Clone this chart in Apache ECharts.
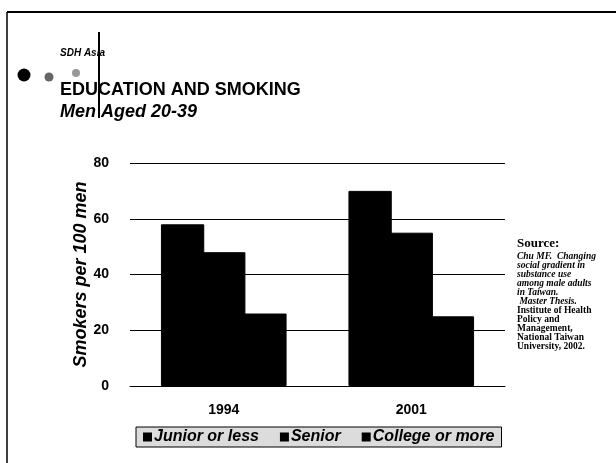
<!DOCTYPE html>
<html>
<head>
<meta charset="utf-8">
<script src="https://cdn.jsdelivr.net/npm/echarts@6/dist/echarts.min.js"></script>
<style>
  html, body { margin: 0; padding: 0; background: #fff; }
  #chart { width: 616px; height: 463px; }
</style>
</head>
<body>
<div id="chart"></div>
<script>
// data
var years = ['1994', '2001']
var juniorOrLess = [58, 70]
var senior = [48, 55]
var collegeOrMore = [26, 25]
var yTicks = [0, 20, 40, 60, 80]

var sourceLines = [
  { text: 'Chu MF.  Changing', style: 'italic' },
  { text: 'social gradient in', style: 'italic' },
  { text: 'substance use', style: 'italic' },
  { text: 'among male adults', style: 'italic' },
  { text: 'in Taiwan.', style: 'italic' },
  { text: ' Master Thesis.', style: 'italic' },
  { text: 'Institute of Health', style: 'normal' },
  { text: 'Policy and', style: 'normal' },
  { text: 'Management,', style: 'normal' },
  { text: 'National Taiwan', style: 'normal' },
  { text: 'University, 2002.', style: 'normal' }
]

var chart = echarts.init(document.getElementById('chart'))

var sansBold = { fontFamily: 'Liberation Sans, Arial', fontWeight: 'bold', fill: '#000' }

var graphics = [
  // slide frame
  { type: 'line', shape: { x1: 7, y1: 12, x2: 616, y2: 12 }, style: { stroke: '#000', lineWidth: 2 } },
  { type: 'line', shape: { x1: 7, y1: 12, x2: 7, y2: 463 }, style: { stroke: '#000', lineWidth: 1.5 } },
  { type: 'line', shape: { x1: 99, y1: 32, x2: 99, y2: 118 }, style: { stroke: '#000', lineWidth: 2 }, z: 10 },
  // bullets
  { type: 'circle', shape: { cx: 24, cy: 75, r: 6.5 }, style: { fill: '#000' } },
  { type: 'circle', shape: { cx: 49, cy: 77, r: 4.5 }, style: { fill: '#666' } },
  { type: 'circle', shape: { cx: 76, cy: 73, r: 4 }, style: { fill: '#999' } },
  // texts
  { type: 'text', left: 60, top: 48, style: Object.assign({ text: 'SDH Asia', fontSize: 10, fontStyle: 'italic' }, sansBold) },
  { type: 'text', left: 60, top: 81, style: Object.assign({ text: 'EDUCATION AND SMOKING', fontSize: 18 }, sansBold) },
  { type: 'text', left: 60, top: 103, style: Object.assign({ text: 'Men Aged 20-39', fontSize: 18, fontStyle: 'italic' }, sansBold) },
  { type: 'text', left: 517, top: 237, style: { text: 'Source:', fontFamily: 'Liberation Serif', fontWeight: 'bold', fontSize: 13, fill: '#000' } }
]

sourceLines.forEach(function (line, i) {
  graphics.push({
    type: 'text',
    left: 517,
    top: 252 + i * 9,
    style: {
      text: line.text,
      fontFamily: 'Liberation Serif',
      fontWeight: 'bold',
      fontStyle: line.style,
      fontSize: 9.5,
      fill: '#000'
    }
  })
})

function barSeries(name, data) {
  return {
    name: name,
    type: 'bar',
    data: data,
    barGap: '-5%',
    barCategoryGap: '33%',
    itemStyle: { color: '#000', borderColor: '#000', borderWidth: 1 },
    animation: false
  }
}

chart.setOption({
  backgroundColor: '#fff',
  animation: false,
  grid: { left: 130, right: 111, top: 163, bottom: 77 },
  legend: {
    left: 136,
    top: 427,
    icon: 'rect',
    itemWidth: 7,
    itemHeight: 7,
    itemGap: 21,
    padding: [2, 7],
    backgroundColor: '#dcdcdc',
    borderColor: '#000',
    borderWidth: 1,
    textStyle: { fontFamily: 'Liberation Sans, Arial', fontWeight: 'bold', fontStyle: 'italic', fontSize: 16, color: '#000', padding: [0, 0, 0, -2] },
    data: ['Junior or less', 'Senior', 'College or more']
  },
  xAxis: {
    type: 'category',
    data: years,
    axisLine: { show: true, lineStyle: { color: '#000', width: 1 } },
    axisTick: { show: false },
    axisLabel: { margin: 17, fontFamily: 'Liberation Sans, Arial', fontWeight: 'bold', fontSize: 14, color: '#000' }
  },
  yAxis: {
    type: 'value',
    min: yTicks[0],
    max: yTicks[yTicks.length - 1],
    interval: 20,
    name: 'Smokers per 100 men',
    nameLocation: 'middle',
    nameRotate: 90,
    nameGap: 40,
    nameMoveOverlap: false,
    nameTextStyle: { fontFamily: 'Liberation Sans, Arial', fontWeight: 'bold', fontStyle: 'italic', fontSize: 18, color: '#000' },
    axisLine: { show: false },
    axisTick: { show: false },
    axisLabel: { margin: 21, fontFamily: 'Liberation Sans, Arial', fontWeight: 'bold', fontSize: 14, color: '#000' },
    splitLine: { lineStyle: { color: '#000', width: 1 } }
  },
  series: [
    barSeries('Junior or less', juniorOrLess),
    barSeries('Senior', senior),
    barSeries('College or more', collegeOrMore)
  ],
  graphic: graphics
})
</script>
</body>
</html>
